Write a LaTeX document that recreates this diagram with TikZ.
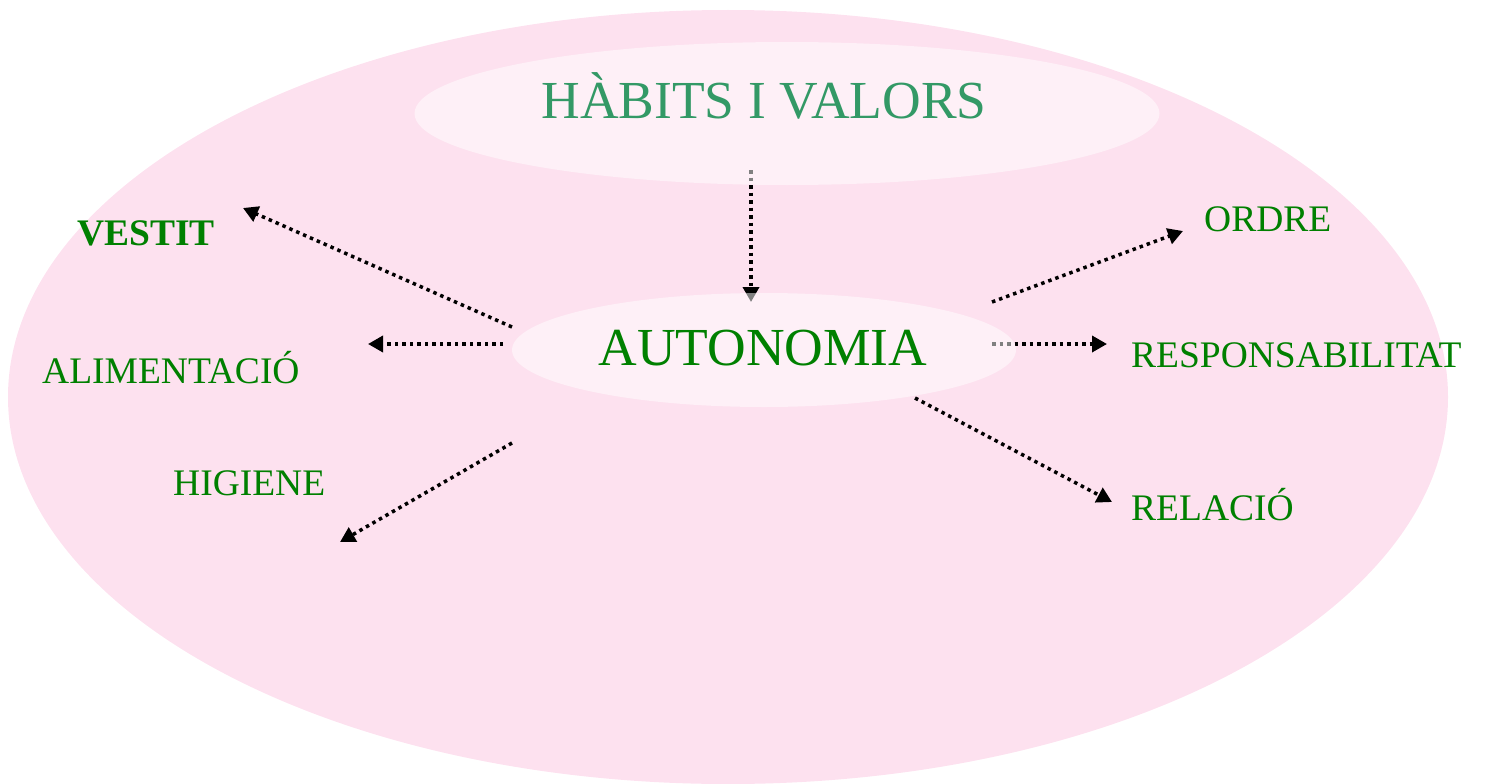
\documentclass[tikz,border=0pt]{standalone}
\usepackage{fontspec}
\setmainfont{Liberation Serif}
\usetikzlibrary{arrows.meta,shapes.geometric}
\definecolor{bigpink}{RGB}{253,225,239}
\definecolor{labelgreen}{RGB}{0,128,0}
\definecolor{titlegreen}{RGB}{51,153,102}
\tikzset{outerblob/.style={
    % The shape:
    ellipse,
    minimum width=1440pt,
    minimum height=774pt,
    % The filling:
    fill=bigpink,
    inner sep=0pt,
    },
    innerblob/.style={
    ellipse,
    inner sep=0pt,
    fill=white,
    fill opacity=0.5,
    text opacity=1,
    },
    biglabel/.style={
    font=\fontsize{53.5}{60}\selectfont,
    },
    smalllabel/.style={
    inner sep=0pt,
    anchor=base west,
    font=\fontsize{37.5}{42}\selectfont,
    text=labelgreen,
    },
    link/.style={
    draw=black,
    line width=3.5pt,
    dash pattern=on 3.5pt off 4pt,
    -{Triangle[length=15pt,width=16pt]},
    },
}
\begin{document}
\begin{tikzpicture}[x=1pt,y=-1pt]
    \useasboundingbox (0,0) rectangle (1488,784);
    \node (frame) [outerblob] at (728,397) {};
    % arrow ends
    \coordinate (from-top)   at (751,170);
    \coordinate (to-auto)    at (751,302);
    \coordinate (from-ves)   at (512,327);
    \coordinate (to-ves)     at (243,208);
    \coordinate (from-ali)   at (503,344);
    \coordinate (to-ali)     at (368,344);
    \coordinate (from-hig)   at (512,443);
    \coordinate (to-hig)     at (340,542);
    \coordinate (from-ord)   at (992,302);
    \coordinate (to-ord)     at (1183,231);
    \coordinate (from-res)   at (992,344);
    \coordinate (to-res)     at (1107,344);
    \coordinate (from-rel)   at (915,398);
    \coordinate (to-rel)     at (1112,502);
    \draw[link] (from-top) -- (to-auto);
    \draw[link] (from-ves) -- (to-ves);
    \draw[link] (from-ali) -- (to-ali);
    \draw[link] (from-hig) -- (to-hig);
    \draw[link] (from-ord) -- (to-ord);
    \draw[link] (from-res) -- (to-res);
    \draw[link] (from-rel) -- (to-rel);
    % centre blobs
    \node (habits) [innerblob,biglabel,text=titlegreen,minimum width=745pt,minimum height=143pt] at (787,113.5) {};
    \node (autonomia) [innerblob,biglabel,text=labelgreen,minimum width=504pt,minimum height=114pt] at (764,350) {};
    \node (habitstext) [biglabel,text=titlegreen,inner sep=0pt,anchor=base] at (764,118) {HÀBITS I VALORS};
    \node (autotext) [biglabel,text=labelgreen,inner sep=0pt,anchor=base] at (763,365) {AUTONOMIA};
    % labels
    \node (vestit)  [smalllabel,font=\fontsize{37.5}{42}\selectfont\bfseries] at (77,245)   {VESTIT};
    \node (alim)    [smalllabel] at (42,383)   {ALIMENTACIÓ};
    \node (higiene) [smalllabel] at (173,495)  {HIGIENE};
    \node (ordre)   [smalllabel] at (1204,231) {ORDRE};
    \node (resp)    [smalllabel] at (1131,367) {RESPONSABILITAT};
    \node (relacio) [smalllabel] at (1131,520) {RELACIÓ};
\end{tikzpicture}
\end{document}
